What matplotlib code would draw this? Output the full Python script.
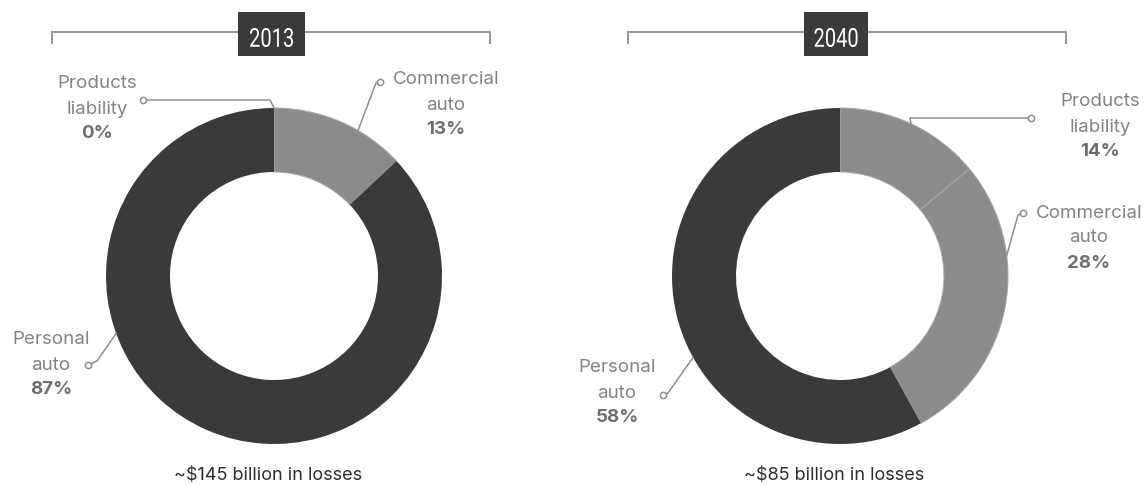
import math
import matplotlib.pyplot as plt
from matplotlib.patches import Rectangle, PathPatch
from matplotlib.textpath import TextPath
from matplotlib.font_manager import FontProperties
from matplotlib.transforms import Affine2D

W, H = 1147, 486

# loss shares by line of business, starting at 12 o'clock and going clockwise
segments = ["Products\nliability", "Commercial\nauto", "Personal\nauto"]
shares_2013 = [0, 13, 87]
shares_2040 = [14, 28, 58]
years = ["2013", "2040"]
totals = ["~$145 billion in losses", "~$85 billion in losses"]

DARK = "#3a3a3a"
GRAY = "#8b8b8b"
LABEL = "#838383"
PCT = "#6e6e6e"
LINE = "#8e8e8e"

plt.rcParams['font.family'] = ['Inter', 'DejaVu Sans']

# panel layout in pixel coordinates (y measured from the top)
panels = [
    dict(shares=shares_2013, center=(274, 276), bracket=(52, 490), box=(238, 305),
         text=[(97, 84), (446, 80), (51, 340)],
         dot=[(143, 100), (380, 82), (88, 365)],
         elbow=[(270, 100), (376, 83), (97, 361)],
         anchor=[90, 60, 200]),
    dict(shares=shares_2040, center=(840, 276), bracket=(628, 1066), box=(804, 868),
         text=[(1100, 102), (1089, 213), (617, 368)],
         dot=[(1031, 118), (1023, 213), (663, 395)],
         elbow=[(910, 118), (1018, 215), (668, 393)],
         anchor=[65, 7, 209]),
]

R_OUT, RING = 168, 64
LINE_GAP = 25


def up(y):
    return H - y


def condensed_text(ax, text, cx, cy, width, height, color):
    # draw text as a path squeezed into a fixed box (narrow numeral style)
    tp = TextPath((0, 0), text, size=30, prop=FontProperties(family='Roboto'))
    bb = tp.get_extents()
    tr = (Affine2D()
          .translate(-bb.x0 - bb.width / 2, -bb.y0 - bb.height / 2)
          .scale(width / bb.width, height / bb.height)
          .translate(cx, cy))
    ax.add_patch(PathPatch(tr.transform_path(tp), facecolor=color,
                           edgecolor='none', zorder=3))


fig = plt.figure(figsize=(W / 100, H / 100), dpi=100)
ax = fig.add_axes([0, 0, 1, 1])

for p, year, total in zip(panels, years, totals):
    cx, cy = p["center"]
    wedges, _ = ax.pie(p["shares"], colors=[GRAY, GRAY, DARK], startangle=90,
                       counterclock=False, radius=R_OUT, center=(cx, up(cy)),
                       wedgeprops=dict(width=RING, linewidth=0), frame=True)
    # thin light seam between the two grey segments
    for w in wedges[:2]:
        w.set_edgecolor("#a8a8a8")
        w.set_linewidth(0.7)

    # bracket with year tab
    x0, x1 = p["bracket"]
    ax.plot([x0, x0, x1, x1], [up(43), up(32), up(32), up(43)],
            color="#9a9a9a", lw=1.5, solid_joinstyle='miter', zorder=1)
    b0, b1 = p["box"]
    ax.add_patch(Rectangle((b0, up(56)), b1 - b0, 44, facecolor=DARK,
                           edgecolor="none", zorder=2))
    condensed_text(ax, year, (b0 + b1) / 2, up(37.5), 43, 19, "white")

    ax.text(cx - 6, up(476), total, color="#2e2e2e", fontsize=13,
            ha='center', va='center')

    # segment labels with leader lines
    for i, (name, share) in enumerate(zip(segments, p["shares"])):
        tx, ty = p["text"][i]
        for k, line in enumerate(name.split("\n")):
            ax.text(tx, up(ty + LINE_GAP * k), line, color=LABEL,
                    fontsize=13.5, ha='center', va='center')
        ax.text(tx, up(ty + 2 * LINE_GAP), f"{share}%", color=PCT,
                fontsize=13.5, fontweight='bold', ha='center', va='center')

        a = math.radians(p["anchor"][i])
        axp, ayp = cx + R_OUT * math.cos(a), up(cy) + R_OUT * math.sin(a)
        dx, dy = p["dot"][i]
        ex, ey = p["elbow"][i]
        ax.plot([dx, ex, axp], [up(dy), up(ey), ayp], color=LINE, lw=1.1,
                zorder=4)
        ax.plot(dx, up(dy), marker='o', ms=4.5, mfc='white', mec=LINE,
                mew=1.1, zorder=5)

ax.set_xlim(0, W)
ax.set_ylim(0, H)
ax.set_aspect('equal')
ax.axis('off')

fig.savefig("out.png", dpi=100)
